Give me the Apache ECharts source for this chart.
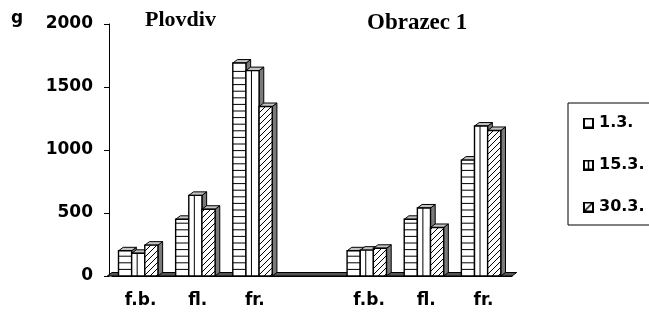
<!DOCTYPE html>
<html><head><meta charset="utf-8">
<script src="https://cdn.jsdelivr.net/npm/echarts@6/dist/echarts.min.js"></script>
<style>html,body{margin:0;padding:0;background:#fff}#c{width:649px;height:313px}</style>
</head><body><div id="c"></div>
<script>
const categories = ['f.b.', 'fl.', 'fr.', '', 'f.b.', 'fl.', 'fr.'];
const seriesNames = ['1.3.', '15.3.', '30.3.'];
const s1 = [200, 450, 1690, null, 200, 450, 920];
const s2 = [180, 640, 1630, null, 205, 540, 1190];
const s3 = [245, 530, 1345, null, 220, 385, 1155];
const yMin = 0, yMax = 2000, yStep = 500;
const panelTitles = ['Plovdiv', 'Obrazec 1'];
const unitLabel = 'g';

function makeHatch() {
  const c = document.createElement('canvas'); c.width = 6; c.height = 6;
  const g = c.getContext('2d');
  g.fillStyle = '#fff'; g.fillRect(0, 0, 6, 6);
  g.strokeStyle = '#000'; g.lineWidth = 1;
  g.beginPath();
  g.moveTo(0, 6); g.lineTo(6, 0);
  g.moveTo(-3, 3); g.lineTo(3, -3);
  g.moveTo(3, 9); g.lineTo(9, 3);
  g.stroke();
  return c;
}
const hatch = makeHatch();

function iconURL(k) {
  const c = document.createElement('canvas'); c.width = 11; c.height = 11;
  const g = c.getContext('2d');
  g.fillStyle = '#000'; g.fillRect(0, 0, 11, 11);
  g.fillStyle = '#fff'; g.fillRect(2, 2, 7, 7);
  g.strokeStyle = '#000'; g.lineWidth = 1.5;
  if (k === 1) { g.beginPath(); g.moveTo(5.5, 2); g.lineTo(5.5, 9); g.stroke(); }
  if (k === 2) { g.beginPath(); g.moveTo(2, 9); g.lineTo(9, 2); g.stroke(); }
  return c.toDataURL();
}

function makeRender(k) {
  return function (params, api) {
    const v = api.value(1);
    if (v == null || isNaN(v)) return;
    const idx = api.value(0);
    const base = api.coord([idx, 0]);
    const top = api.coord([idx, v]);
    const cw = api.size([1, 0])[0];
    const bw = cw * 0.23;
    const dx = 4.7, dy = 3.5;
    const x0 = base[0] - 1.5 * bw - dx / 2 + k * bw;
    const yb = base[1], yt = top[1];
    const ch = [];
    ch.push({ type: 'polygon', shape: { points: [[x0 + bw, yt], [x0 + bw + dx, yt - dy], [x0 + bw + dx, yb - dy], [x0 + bw, yb]] },
      style: { fill: '#7a7a7a', stroke: '#000', lineWidth: 1 } });
    ch.push({ type: 'polygon', shape: { points: [[x0, yt], [x0 + dx, yt - dy], [x0 + bw + dx, yt - dy], [x0 + bw, yt]] },
      style: { fill: '#c4c4c4', stroke: '#000', lineWidth: 1 } });
    ch.push({ type: 'rect', shape: { x: x0, y: yt, width: bw, height: yb - yt },
      style: { fill: k === 2 ? { image: hatch, repeat: 'repeat' } : '#fff', stroke: '#000', lineWidth: 1.4 } });
    if (k === 0) {
      for (let y = yb - 6.6; y > yt + 2; y -= 6.6)
        ch.push({ type: 'line', shape: { x1: x0, y1: y, x2: x0 + bw, y2: y }, style: { stroke: '#000', lineWidth: 1 } });
    }
    if (k === 1) {
      ch.push({ type: 'line', shape: { x1: x0 + bw * 0.42, y1: yt, x2: x0 + bw * 0.42, y2: yb }, style: { stroke: '#000', lineWidth: 1 } });
    }
    return { type: 'group', children: ch };
  };
}

function floorRender(params, api) {
  const cs = params.coordSys;
  const yb = api.coord([0, 0])[1];
  const dx = 4.7, dy = 3.5;
  return { type: 'polygon', shape: { points: [[cs.x - dx, yb], [cs.x, yb - dy], [cs.x + cs.width + dx, yb - dy], [cs.x + cs.width, yb]] },
    style: { fill: '#555', stroke: '#000', lineWidth: 1 } };
}

const sans = 'DejaVu Sans';
const chart = echarts.init(document.getElementById('c'), null, { renderer: 'canvas' });
const allSeries = [s1, s2, s3];
chart.setOption({
  animation: false,
  backgroundColor: '#fff',
  title: [
    { text: unitLabel, left: 11, top: 10, padding: 0, textStyle: { fontFamily: sans, fontWeight: 'bold', fontSize: 17, color: '#000' } },
    { text: panelTitles[0], left: 145, top: 9, padding: 0, textStyle: { fontFamily: 'Liberation Serif', fontWeight: 'bold', fontSize: 22, color: '#000' } },
    { text: panelTitles[1], left: 367, top: 12, padding: 0, textStyle: { fontFamily: 'Liberation Serif', fontWeight: 'bold', fontSize: 23, color: '#000' } }
  ],
  legend: {
    orient: 'vertical', left: 568, top: 103, padding: [10, 14, 8, 15],
    itemWidth: 11, itemHeight: 11, itemGap: 22,
    borderColor: '#000', borderWidth: 1,
    textStyle: { fontFamily: sans, fontWeight: 'bold', fontSize: 16, lineHeight: 20, color: '#000' },
    data: seriesNames.map((n, i) => ({ name: n, icon: 'image://' + iconURL(i) }))
  },
  grid: { left: 112, right: 137, top: 24, bottom: 37 },
  xAxis: {
    type: 'category', data: categories, boundaryGap: true,
    axisLine: { lineStyle: { color: '#000', width: 1 } },
    axisTick: { length: 6, interval: 0, lineStyle: { color: '#000' } },
    axisLabel: { interval: 0, margin: 16, fontFamily: sans, fontWeight: 'bold', fontSize: 17, color: '#000' }
  },
  yAxis: {
    type: 'value', min: yMin, max: yMax, interval: yStep, offset: 3,
    axisLine: { show: true, lineStyle: { color: '#000', width: 1 } },
    axisTick: { show: true, length: 5, lineStyle: { color: '#000' } },
    splitLine: { show: false },
    axisLabel: { margin: 16, formatter: v => String(v), fontFamily: sans, fontWeight: 'bold', fontSize: 17, color: '#000' }
  },
  series: [
    { type: 'custom', name: '_floor', z: 1, renderItem: floorRender, data: [[0, 0]], silent: true }
  ].concat(allSeries.map((arr, k) => ({
    type: 'custom', name: seriesNames[k], z: 2,
    renderItem: makeRender(k),
    encode: { x: 0, y: 1 },
    itemStyle: { color: '#fff', borderColor: '#000' },
    data: arr.map((v, i) => [i, v])
  })))
});
</script></body></html>
